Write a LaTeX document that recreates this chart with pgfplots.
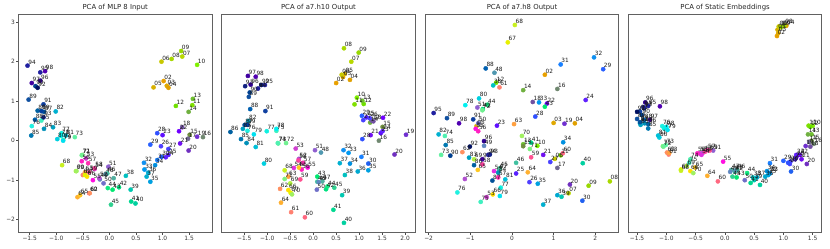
\documentclass[border=0pt]{standalone}
\usepackage{fontspec}
\usepackage{pgfplots}
\pgfplotsset{compat=1.18}
\setmainfont{DejaVu Sans}
\newcommand{\dc}[2]{\definecolor{c#1}{HTML}{#2}}
\dc{02}{E8A000}\dc{03}{E0A800}\dc{04}{E0A000}\dc{05}{D8B000}\dc{06}{C8C800}\dc{07}{B8D800}\dc{08}{A8D800}\dc{09}{98D800}
\dc{10}{80F000}\dc{11}{80E000}\dc{12}{70E000}\dc{13}{70C030}\dc{14}{70B040}\dc{15}{708F40}\dc{16}{708870}\dc{17}{706890}\dc{18}{7050A0}\dc{19}{7030D0}
\dc{20}{7030C0}\dc{21}{7010F0}\dc{22}{7000FF}\dc{23}{6010FF}\dc{24}{6020FF}\dc{25}{5820FF}\dc{26}{5040FF}\dc{27}{4840FF}\dc{28}{3050FF}\dc{29}{2860FF}
\dc{30}{2060F0}\dc{31}{1880FF}\dc{32}{1090F0}\dc{33}{0098F0}\dc{34}{0090E0}\dc{35}{00A0E0}\dc{36}{00A8D0}\dc{37}{00B0D0}\dc{38}{00C0C0}\dc{39}{00C8B0}
\dc{40}{00D0A0}\dc{41}{00D890}\dc{42}{00E080}\dc{43}{00E870}\dc{44}{10E880}\dc{45}{30D090}\dc{46}{40C0A0}\dc{47}{50B0A0}\dc{48}{5098B0}\dc{49}{6088C0}
\dc{50}{7070C8}\dc{51}{9060D0}\dc{52}{B050D0}\dc{53}{D040D0}\dc{54}{E030E0}\dc{55}{FF10E0}\dc{56}{FF20C0}\dc{57}{FF30B0}\dc{58}{FF40A0}\dc{59}{FF5090}
\dc{60}{FF6880}\dc{61}{FF8070}\dc{62}{FF9060}\dc{63}{FFA040}\dc{64}{FFB030}\dc{65}{FFC820}\dc{66}{FFE000}\dc{67}{E8F000}\dc{68}{C8F020}\dc{69}{B0F040}
\dc{70}{A0F060}\dc{71}{80F080}\dc{72}{70F090}\dc{73}{60F0A0}\dc{74}{50F0B0}\dc{75}{40F0C0}\dc{76}{20F0E0}\dc{77}{10F0E0}\dc{78}{00F0F0}\dc{79}{00E0F0}
\dc{80}{00D0E0}\dc{81}{00C0D8}\dc{82}{00B0D0}\dc{83}{00A0C0}\dc{84}{0090B8}\dc{85}{0078B0}\dc{86}{0060A0}\dc{87}{005098}\dc{88}{0060B0}\dc{89}{1050A0}
\dc{90}{004090}\dc{91}{1040A0}\dc{92}{001060}\dc{93}{102080}\dc{94}{2020A0}\dc{95}{2020A0}\dc{96}{300090}\dc{97}{4000A0}\dc{98}{5000B0}\dc{99}{0040A0}
\pgfplotstableread{
l x y
02 1.02 1.51
03 1.08 1.39
04 1.11 1.34
05 .83 1.35
06 .98 2.00
07 1.37 2.13
08 1.17 2.07
09 1.35 2.27
10 1.65 1.92
11 1.56 .90
12 1.25 .88
13 1.57 1.06
14 1.49 .73
15 1.51 .15
16 1.76 .09
17 1.48 .05
18 1.37 .34
19 1.65 .10
20 1.49 -.25
21 1.33 -.07
22 1.31 .24
23 1.00 .14
24 1.06 -.42
25 1.11 -.36
26 .97 -.14
27 1.11 -.21
28 .90 .19
29 .77 -.10
30 .98 -.41
31 .90 -.49
32 .65 -.56
33 .66 -.73
34 .86 -.62
35 .77 -1.04
36 .73 -.81
37 .70 -.91
38 .31 -.89
39 .40 -1.24
40 .49 -1.59
41 .41 -1.54
42 .18 -1.18
43 .06 -1.24
44 -.03 -1.20
45 .03 -1.62
46 -.04 -.83
47 .08 -.95
48 -.07 -.85
49 -.18 -.98
50 -.11 -1.08
51 -.02 -.66
52 -.19 -.95
53 -.44 -.45
54 -.28 -.72
55 -.31 -1.00
56 -.52 -.52
57 -.40 -.57
58 -.28 -.70
59 -.38 -.80
60 -.38 -1.33
61 -.50 -.87
62 -.37 -1.33
63 -.46 -.80
64 -.60 -1.43
65 -.55 -1.38
66 -.42 -.91
67 -.46 -.87
68 -.89 -.62
69 -.63 -.77
70 -.62 -.77
71 -.51 -.36
72 -.52 -.37
73 -.65 .09
74 -.87 .02
75 -1.28 .51
76 -1.46 .37
77 -.90 .19
78 -.91 .12
79 -.87 0
80 -.98 .04
81 -.82 .13
82 -1.01 .74
83 -1.06 .34
84 -1.23 .30
85 -1.47 .13
86 -1.35 .76
87 -1.23 .73
88 -1.40 .53
89 -1.52 1.04
90 -1.39 1.38
91 -1.24 .92
92 -1.35 1.34
93 -1.24 .59
94 -1.54 1.90
95 -1.30 1.73
96 -1.30 1.52
97 -1.46 1.46
98 -1.21 1.76
99 -1.28 .75
}\tA
\pgfplotstableread{
l x y
02 .50 1.46
03 .65 1.61
04 .80 1.54
05 .69 1.69
06 .62 1.67
07 .83 2.00
08 .67 2.34
09 .99 2.23
10 .95 1.09
11 .90 .92
12 1.10 .93
13 1.07 1.01
14 1.24 .46
15 1.51 .35
16 1.43 0
17 1.27 .51
18 1.31 .49
19 2.02 .15
20 1.77 -.35
21 1.25 .14
22 1.52 .58
23 1.47 .19
24 1.51 .24
25 1.16 .59
26 1.23 .57
27 1.09 .52
28 1.07 .04
29 1.06 .63
30 1.20 -.58
31 1.05 -.41
32 .66 -.24
33 .77 -.31
34 .80 -.58
35 1.20 -.75
36 .97 -.78
37 .58 -.57
38 .69 -.87
39 .63 -1.38
40 .67 -2.08
41 .44 -1.75
42 .28 -1.23
43 .09 -.91
44 .31 -1.16
45 .46 -1.19
46 .09 -1.04
47 .20 -1.03
48 .17 -.30
49 .12 -1.05
50 .08 -1.24
51 .04 -.24
52 -.31 -.46
53 -.38 -.20
54 -.42 -.69
55 -.12 -.68
56 -.25 -.73
57 -.22 -.56
58 -.32 -.50
59 -.28 -.98
60 -.18 -1.94
61 -.48 -1.81
62 -.72 -1.22
63 -.54 -.91
64 -.70 -1.57
65 -.31 -.68
66 -.54 -1.25
67 -.49 -1.32
68 -.62 -.75
69 -.50 -1.08
70 -.46 -1.36
71 -.62 -.97
72 -.59 -.06
73 -.76 -.07
74 -.77 -.06
75 -.80 .25
76 -1.43 .25
77 -1.01 .24
78 -.80 .30
79 -1.29 .16
80 -1.07 -.58
81 -1.25 -.16
82 -1.41 .50
83 -1.53 .30
84 -1.45 -.06
85 -1.57 .04
86 -1.80 .22
87 -1.49 .40
88 -1.37 .80
89 -1.40 1.11
90 -1.38 1.22
91 -1.04 .75
92 -1.13 1.41
93 -1.48 1.38
94 -1.20 1.32
95 -1.05 1.41
96 -1.36 1.42
97 -1.42 1.64
98 -1.25 1.62
99 -1.43 .40
}\tB
\pgfplotstableread{
l x y
02 .79 1.67
03 1.00 .45
04 1.51 .44
05 -.85 .37
06 1.03 -.46
07 1.36 -1.33
08 2.35 -1.03
09 1.84 -1.14
10 .61 -.13
11 1.17 -.37
12 -.38 1.47
13 .27 -.09
14 .27 1.28
15 .27 -.14
16 1.09 1.31
17 1.09 -.69
18 .50 .98
19 1.26 .43
20 1.39 -1.11
21 .75 -.36
22 .84 .94
23 -.36 .38
24 1.77 1.03
25 .10 -.83
26 .42 -1.05
27 .92 -.54
28 .56 .61
29 2.19 1.81
30 1.69 -1.52
31 1.17 1.93
32 1.97 2.11
33 .65 .97
34 1.23 -.04
35 .62 -1.09
36 1.09 -1.38
37 .75 -1.62
38 -.45 1.40
39 1.19 -1.42
40 1.70 -.57
41 .46 -.05
42 -.70 .80
43 .79 .86
44 -.59 .91
45 -.29 -.70
46 .10 -.56
47 -.31 -.74
48 -.42 1.72
49 -.67 -.13
50 -.81 .44
51 -.83 .84
52 -1.13 -.97
53 -.61 -1.43
54 -.43 -.77
55 -.87 .30
56 -.81 .24
57 -.33 -.93
58 -.71 -.60
59 .46 -.42
60 1.22 -.32
61 -.30 1.35
62 -1.19 -.29
63 .05 .42
64 .38 -.80
65 -.82 -.74
66 -.46 -1.36
67 -.10 2.49
68 .07 2.93
69 -.91 -.47
70 .24 .12
71 .43 -.21
72 -.71 .77
73 -1.70 -.36
74 -1.61 .12
75 -.75 -1.55
76 -1.31 -1.31
77 -.27 -1.19
78 -1.12 .90
79 -.29 -1.40
80 -.79 1.07
81 -.16 -.98
82 -1.76 .16
83 -1.03 -.43
84 -.33 -.81
85 -1.59 -.11
86 -.91 -.62
87 -.47 -1.01
88 -.63 1.83
89 -1.56 .57
90 -1.48 -.38
91 -.93 .54
92 -1.01 -.15
93 -.53 -.35
94 -.57 -.36
95 -1.88 .70
96 -.67 -.01
97 -.71 -.47
98 -1.27 .44
}\tC
\pgfplotstableread{
l x y
02 .89 2.65
03 .91 2.72
04 1.05 2.91
05 .90 2.81
06 .92 2.89
07 .95 2.87
08 1.02 2.92
09 .98 2.89
10 1.50 .38
11 1.43 .38
12 1.46 .35
13 1.48 .16
14 1.42 .16
15 1.48 0
16 1.52 -.08
17 1.44 -.03
18 1.46 -.15
19 1.38 -.135
20 1.40 -.59
21 1.31 -.47
22 1.28 -.36
23 1.22 -.42
24 1.22 -.36
25 1.20 -.47
26 1.12 -.53
27 1.11 -.59
28 1.08 -.56
29 1.00 -.51
30 1.13 -.78
31 .77 -.57
32 .76 -.82
33 .77 -.83
34 .72 -.77
35 .74 -.87
36 .69 -.91
37 .55 -.93
38 .48 -.93
39 .50 -1.0
40 .60 -1.12
41 .44 -1.07
42 .17 -.78
43 .20 -.93
44 .38 -.82
45 .13 -.91
46 .21 -.74
47 .11 -.74
48 .17 -.76
49 .09 -.79
50 .34 -1.0
51 -.20 -.25
52 -.37 -.30
53 -.43 -.32
54 -.40 -.36
55 -.03 -.53
56 -.47 -.32
57 -.30 -.24
58 -.34 -.28
59 -.26 -.25
60 -.12 -1.03
61 -.96 -.35
62 -.99 -.30
63 -.95 -.31
64 -.30 -.89
65 -.51 -.68
66 -.59 -.77
67 -.75 -.73
68 -.75 -.76
69 -.65 -.64
70 -.54 -.82
71 -1.06 -.14
72 -1.05 -.15
73 -1.01 -.11
74 -.59 -.47
75 -.61 -.56
76 -1.07 .37
77 -1.04 .31
78 -1.0 .35
79 -.98 .27
80 -1.12 .08
81 -1.14 .13
82 -1.45 .44
83 -1.44 .40
84 -1.37 .44
85 -1.31 .31
86 -1.31 .42
87 -1.45 .47
88 -1.38 .53
89 -1.50 .55
90 -1.42 .65
91 -1.45 .74
92 -1.50 .73
93 -1.38 .82
94 -1.39 .85
95 -1.31 .88
96 -1.36 .97
97 -1.28 .53
98 -1.11 .87
}\tD
\pgfplotsset{
  pca/.style={
    scale only axis, width=193.5pt, height=218pt,
    anchor=south west,
    ymin=-2.33, ymax=3.19,
    axis line style={draw=black!62, line width=0.75pt},
    tick style={draw=black!70, line width=0.5pt},
    tick align=outside, major tick length=2pt,
    xtick pos=bottom, ytick pos=left,
    tick label style={font=\fontsize{5.9}{7}\selectfont, text=black!80},
    xticklabel style={yshift=2pt},
    yticklabel style={xshift=2pt},
    title style={font=\fontsize{6.9}{8}\selectfont, yshift=-5.5pt, text=black!85},
    clip=false,
  },
  nolab/.style={ytick=\empty},
}
\newcommand{\pts}[1]{%
  \addplot[scatter, only marks, mark=*, mark size=2.1pt,
    point meta=explicit symbolic,
    scatter/@pre marker code/.code={\edef\tmpsc{\noexpand\scope[fill=c\pgfplotspointmeta,draw=c\pgfplotspointmeta]}\tmpsc},
    scatter/@post marker code/.code={\endscope},
  ] table[x=x,y=y,meta=l] {#1};
  \addplot[draw=none, mark=none, forget plot,
    point meta=explicit symbolic,
    nodes near coords={\pgfplotspointmeta},
    every node near coord/.style={anchor=south west, inner sep=0pt, xshift=0.6pt, yshift=1.2pt,
      font=\fontsize{5.8}{6}\selectfont, text=black!90},
  ] table[x=x,y=y,meta=l] {#1};
}
\begin{document}
\begin{tikzpicture}[x=1pt,y=1pt]
\useasboundingbox (0,0) rectangle (830,249);
\begin{axis}[pca, at={(18.5pt,16.3pt)}, xmin=-1.71, xmax=1.93,
  title={PCA of MLP 8 Input},
  xtick={-1.5,-1,-.5,0,.5,1,1.5}, xticklabels={−1.5,−1.0,−0.5,0.0,0.5,1.0,1.5},
  ytick={-2,-1,0,1,2,3}, yticklabels={−2,−1,0,1,2,3}]
\pts{\tA}
\end{axis}
\begin{axis}[pca, nolab, at={(221.7pt,16.3pt)}, xmin=-1.99, xmax=2.22,
  title={PCA of a7.h10 Output},
  xtick={-1.5,-1,-.5,0,.5,1,1.5,2}, xticklabels={−1.5,−1.0,−0.5,0.0,0.5,1.0,1.5,2.0}]
\pts{\tB}
\end{axis}
\begin{axis}[pca, nolab, at={(425.3pt,16.3pt)}, xmin=-2.08, xmax=2.565,
  title={PCA of a7.h8 Output},
  xtick={-2,-1,0,1,2}, xticklabels={−2,−1,0,1,2}]
\pts{\tC}
\end{axis}
\begin{axis}[pca, nolab, at={(628.3pt,16.3pt)}, xmin=-1.65, xmax=1.656,
  title={PCA of Static Embeddings},
  xtick={-1.5,-1,-.5,0,.5,1,1.5}, xticklabels={−1.5,−1.0,−0.5,0.0,0.5,1.0,1.5}]
\pts{\tD}
\end{axis}
\end{tikzpicture}
\end{document}
